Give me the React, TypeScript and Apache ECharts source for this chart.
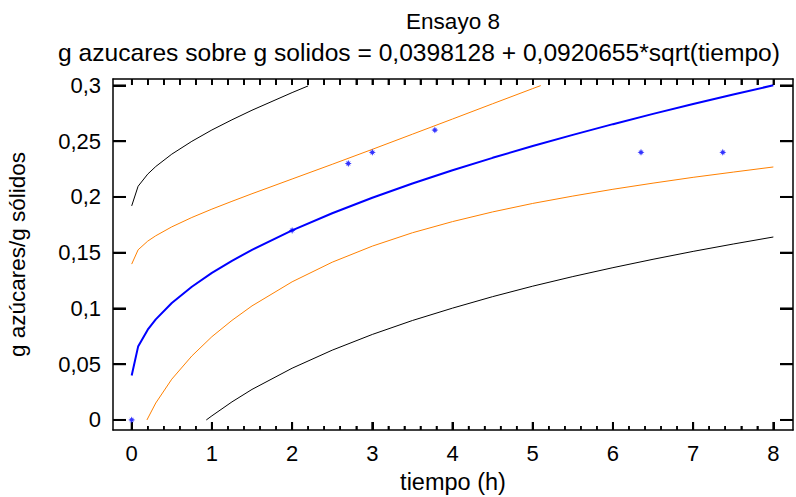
import React, { useEffect, useRef } from "react";
import * as echarts from "echarts";

const titleText = "Ensayo 8";
const subtitleText = "g azucares sobre g solidos = 0,0398128 + 0,0920655*sqrt(tiempo)";
const xName = "tiempo (h)";
const yName = "g azúcares/g sólidos";

const xTicks = [0, 1, 2, 3, 4, 5, 6, 7, 8];
const xMinorTicks = [
  0.2, 0.4, 0.6, 0.8, 1.2, 1.4, 1.6, 1.8, 2.2, 2.4, 2.6, 2.8, 3.2, 3.4, 3.6, 3.8,
  4.2, 4.4, 4.6, 4.8, 5.2, 5.4, 5.6, 5.8, 6.2, 6.4, 6.6, 6.8, 7.2, 7.4, 7.6, 7.8,
];
const yTicks = [0, 0.05, 0.1, 0.15, 0.2, 0.25, 0.3];

// observed data
const obsX = [0, 2, 2.7, 3, 3.78, 6.35, 7.37];
const obsY = [0, 0.17, 0.23, 0.24, 0.26, 0.24, 0.24];

// fitted model
const fitX = [0, 0.08, 0.2, 0.3, 0.5, 0.75, 1, 1.25, 1.5, 2, 2.5, 3, 3.5, 4, 4.5, 5, 5.5, 6, 6.5, 7, 7.5, 8];
const fitY = [0.0398, 0.0658, 0.081, 0.0902, 0.1049, 0.1195, 0.1319, 0.1427, 0.1526, 0.17, 0.1854, 0.1993, 0.2121, 0.2239, 0.2351, 0.2457, 0.2557, 0.2653, 0.2745, 0.2834, 0.2919, 0.3002];

// confidence limits (orange)
const confUpX = [0, 0.08, 0.2, 0.3, 0.5, 0.75, 1, 1.25, 1.5, 2, 2.5, 3, 3.5, 4, 4.5, 5, 5.1];
const confUpY = [0.1398, 0.1526, 0.1604, 0.1652, 0.1732, 0.1816, 0.1891, 0.1961, 0.2029, 0.2161, 0.2293, 0.2427, 0.2563, 0.2699, 0.2836, 0.2972, 0.2999];
const confLowX = [0.19, 0.3, 0.5, 0.75, 1, 1.25, 1.5, 2, 2.5, 3, 3.5, 4, 4.5, 5, 5.5, 6, 6.5, 7, 7.5, 8];
const confLowY = [0, 0.0152, 0.0366, 0.0574, 0.0747, 0.0893, 0.1023, 0.1239, 0.1415, 0.1559, 0.1679, 0.1779, 0.1866, 0.1942, 0.2008, 0.2069, 0.2124, 0.2176, 0.2223, 0.2269];

// prediction limits (black)
const predUpX = [0, 0.08, 0.2, 0.3, 0.5, 0.75, 1, 1.25, 1.5, 2, 2.2];
const predUpY = [0.192, 0.2096, 0.2205, 0.2273, 0.2384, 0.2499, 0.2601, 0.2692, 0.2778, 0.2936, 0.2996];
const predLowX = [0.93, 1, 1.25, 1.5, 2, 2.5, 3, 3.5, 4, 4.5, 5, 5.5, 6, 6.5, 7, 7.5, 8];
const predLowY = [0, 0.0037, 0.0162, 0.0274, 0.0464, 0.0626, 0.0767, 0.0892, 0.1003, 0.1106, 0.12, 0.1286, 0.1366, 0.1441, 0.1512, 0.1578, 0.1641];

const zip = (xs: number[], ys: number[]) => xs.map((x, i) => [x, ys[i]]);

const FONT = "'Liberation Sans', Arial, sans-serif";
const X_MIN = -0.233;
const X_MAX = 8.245;
const Y_MIN = -0.009;
const Y_MAX = 0.3058;
const GRID = { left: 113, right: 3, top: 79, bottom: 67 };
const W = 796;
const H = 497;

const starPath =
  "path://M0,-10 L2.5,-4 L7,-7 L4,-2.5 L10,0 L4,2.5 L7,7 L2.5,4 L0,10 L-2.5,4 L-7,7 L-4,2.5 L-10,0 L-4,-2.5 L-7,-7 L-2.5,-4 Z";

export default function App() {
  const ref = useRef<HTMLDivElement>(null);
  useEffect(() => {
    if (!ref.current) return;
    const chart = echarts.init(ref.current, null, { renderer: "svg" });
    const axisLine = { show: true, onZero: false, lineStyle: { color: "#000", width: 1.5 } };
    const baseX = { type: "value", min: X_MIN, max: X_MAX, splitLine: { show: false } };
    const baseY = { type: "value", min: Y_MIN, max: Y_MAX, splitLine: { show: false } };
    const tickCfg = (values: number[], length: number, width: number) => ({
      show: true,
      inside: true,
      length,
      customValues: values,
      lineStyle: { color: "#000", width },
    });
    const line = (xs: number[], ys: number[], color: string, width: number, extra: any = {}) => ({
      type: "line",
      data: zip(xs, ys),
      showSymbol: false,
      symbol: "none",
      lineStyle: { color, width },
      itemStyle: { color },
      xAxisIndex: 0,
      yAxisIndex: 0,
      z: 2,
      ...extra,
    });
    // tick marks drawn as thin rectangles placed by the chart's own scales
    const tickSeries = (data: number[][], size: number[], offset: number[]) => ({
      type: "scatter",
      data,
      symbol: "rect",
      symbolSize: size,
      symbolOffset: offset,
      itemStyle: { color: "#000", opacity: 1 },
      clip: false,
      silent: true,
      xAxisIndex: 0,
      yAxisIndex: 0,
      z: 8,
    });
    const xPerPx = (X_MAX - X_MIN) / (W - GRID.left - GRID.right);
    const yPerPx = (Y_MAX - Y_MIN) / (H - GRID.top - GRID.bottom);
    const seg = (a: number[], b: number[], w: number) => [
      { coord: a, lineStyle: { color: "#000", width: w, type: "solid" } },
      { coord: b },
    ];
    const markData = [
      ...xTicks.map((v) => seg([v, Y_MIN], [v, Y_MIN + 8 * yPerPx], 2)),
      ...xMinorTicks.map((v) => seg([v, Y_MIN], [v, Y_MIN + 4 * yPerPx], 1.5)),
      ...xTicks.map((v) => seg([v, Y_MAX], [v, Y_MAX - 6 * yPerPx], 1.5)),
      ...xMinorTicks.map((v) => seg([v, Y_MAX], [v, Y_MAX - 6 * yPerPx], 1.5)),
      ...yTicks.map((v) => seg([X_MIN, v], [X_MIN + 13 * xPerPx, v], 2)),
      ...yTicks.map((v) => seg([X_MAX, v], [X_MAX - 13 * xPerPx, v], 2)),
    ];
    chart.setOption({
      animation: false,
      backgroundColor: "#fff",
      textStyle: { fontFamily: FONT },
      grid: { ...GRID, containLabel: false, outerBoundsMode: "none" },
      graphic: [
        {
          type: "text",
          x: 453,
          y: 10,
          style: { text: titleText, font: `22.5px ${FONT}`, fill: "#000", textAlign: "center", textVerticalAlign: "top" },
        },
        {
          type: "text",
          x: 419,
          y: 40,
          style: { text: subtitleText, font: `24.6px ${FONT}`, fill: "#000", textAlign: "center", textVerticalAlign: "top" },
        },
      ],
      xAxis: [
        {
          ...baseX,
          position: "bottom",
          axisLine,
          axisTick: tickCfg(xTicks, 8, 2),
          axisLabel: { show: true, customValues: xTicks, fontSize: 22, color: "#000", margin: 12, fontFamily: FONT },
          name: xName,
          nameLocation: "middle",
          nameGap: 40,
          nameTextStyle: { fontSize: 23.5, color: "#000", fontFamily: FONT },
        },
        {
          ...baseX,
          position: "top",
          axisLine,
          axisTick: tickCfg([...xTicks, ...xMinorTicks], 6, 1.5),
          axisLabel: { show: false },
        },
      ],
      yAxis: [
        {
          ...baseY,
          position: "left",
          axisLine,
          axisTick: tickCfg(yTicks, 13, 2),
          axisLabel: {
            show: true,
            customValues: yTicks,
            fontSize: 22,
            color: "#000",
            margin: 12,
            fontFamily: FONT,
            formatter: (v: number) => String(v).replace(".", ","),
          },
          name: yName,
          nameLocation: "middle",
          nameGap: 84,
          nameTextStyle: { fontSize: 22.5, color: "#000", fontFamily: FONT },
        },
        {
          ...baseY,
          position: "right",
          axisLine,
          axisTick: tickCfg(yTicks, 13, 2),
          axisLabel: { show: false },
        },
      ],
      series: [
        tickSeries(xTicks.map((v) => [v, Y_MIN]), [2, 8], [0, -4]),
        tickSeries(xMinorTicks.map((v) => [v, Y_MIN]), [1.5, 4], [0, -2]),
        tickSeries(xTicks.map((v) => [v, Y_MAX]), [1.5, 6], [0, 3]),
        tickSeries(xMinorTicks.map((v) => [v, Y_MAX]), [1.5, 6], [0, 3]),
        tickSeries(yTicks.map((v) => [X_MIN, v]), [13, 2], [6.5, 0]),
        tickSeries(yTicks.map((v) => [X_MAX, v]), [13, 2], [-6.5, 0]),
        line(predUpX, predUpY, "#000000", 1, {
          markLine: {
            silent: true,
            symbol: ["none", "none"],
            label: { show: false },
            animation: false,
            data: markData,
          },
        }),
        line(predLowX, predLowY, "#000000", 1),
        line(confUpX, confUpY, "#ff8000", 1),
        line(confLowX, confLowY, "#ff8000", 1),
        line(fitX, fitY, "#0000ff", 2),
        {
          type: "scatter",
          data: zip(obsX, obsY),
          symbol: starPath,
          symbolSize: 7,
          itemStyle: { color: "#0000ff" },
          xAxisIndex: 0,
          yAxisIndex: 0,
          z: 9,
        },
      ],
    });

    return () => chart.dispose();
  }, []);
  return <div ref={ref} style={{ width: W, height: H, position: "absolute", left: 0, top: 0 }} />;
}
